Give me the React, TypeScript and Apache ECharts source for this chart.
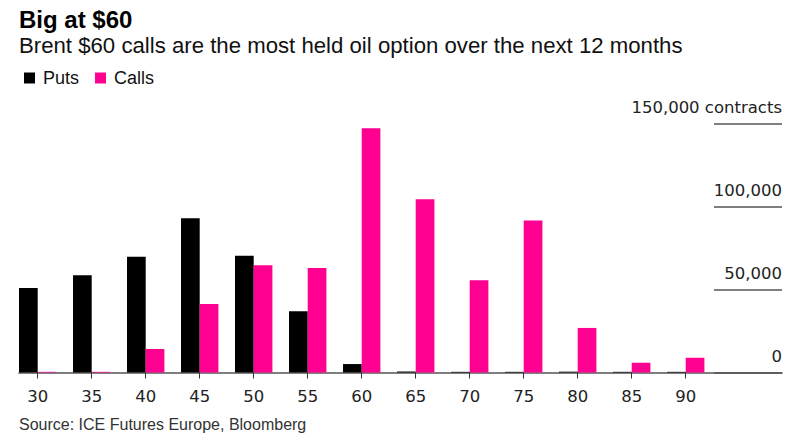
import React, { useEffect, useRef } from 'react';
import * as echarts from 'echarts';

const strikes = ['30', '35', '40', '45', '50', '55', '60', '65', '70', '75', '80', '85', '90', ''];
const puts = [51000, 58700, 69800, 93100, 70500, 37000, 5100, 600, 400, 400, 500, 400, 400, null];
const calls = [400, 400, 14200, 41400, 64700, 63100, 147500, 104600, 55700, 91700, 26900, 5900, 8900, null];
const yMin = 0;
const yMax = 150000;
const yStep = 50000;

const TEXT_FONT = '"Liberation Sans", Arial, sans-serif';
const NUM_FONT = '"DejaVu Sans", sans-serif';

export default function App() {
  const ref = useRef<HTMLDivElement>(null);
  useEffect(() => {
    if (!ref.current) return;
    const chart = echarts.init(ref.current, undefined, { renderer: 'svg' });
    const top = 124;
    const bottom = 74.5;
    chart.setOption({
      animation: false,
      backgroundColor: '#fff',
      graphic: [
        { type: 'text', x: 19, y: 19, style: { text: 'Big at $60', font: `bold 24px ${TEXT_FONT}`, fill: '#000', verticalAlign: 'middle' } },
        { type: 'text', x: 19, y: 45.5, style: { text: 'Brent $60 calls are the most held oil option over the next 12 months', font: `22.2px ${TEXT_FONT}`, fill: '#111', verticalAlign: 'middle' } },
        { type: 'text', x: 19, y: 424, style: { text: 'Source: ICE Futures Europe, Bloomberg', font: `16px ${TEXT_FONT}`, fill: '#333', verticalAlign: 'middle' } },
      ],
      legend: {
        data: ['Puts', 'Calls'],
        left: 19,
        top: 64,
        icon: 'rect',
        itemWidth: 11,
        itemHeight: 11,
        itemGap: 16,
        selectedMode: false,
        textStyle: { fontSize: 18, fontFamily: TEXT_FONT, color: '#111', padding: [0, 0, 0, 3] },
      },
      grid: [
        { left: 10.7, right: 40.3, top, bottom },
        { left: 19, right: 25, top, bottom },
        { left: 714, right: 25, top, bottom },
      ],
      xAxis: [
        {
          type: 'category',
          gridIndex: 0,
          data: strikes,
          axisLine: { show: false },
          axisTick: {
            show: true,
            alignWithLabel: true,
            length: 6,
            interval: (i: number) => i < 13,
            lineStyle: { color: '#333', width: 1 },
          },
          axisLabel: { interval: 0, margin: 15, fontSize: 16.5, fontFamily: NUM_FONT, color: '#222' },
        },
        {
          type: 'value',
          gridIndex: 1,
          min: 0,
          max: 1,
          axisLine: { show: true, onZero: false, lineStyle: { color: '#555', width: 1.5 } },
          axisTick: { show: false },
          axisLabel: { show: false },
          splitLine: { show: false },
        },
        { type: 'value', gridIndex: 2, min: 0, max: 1, show: false },
      ],
      yAxis: [
        { type: 'value', gridIndex: 0, min: yMin, max: yMax, show: false },
        { type: 'value', gridIndex: 1, min: yMin, max: yMax, show: false },
        {
          type: 'value',
          gridIndex: 2,
          min: yMin,
          max: yMax,
          interval: yStep,
          position: 'right',
          axisLine: { show: false },
          axisTick: { show: false },
          splitLine: { show: true, lineStyle: { color: '#555', width: 1.5 } },
          axisLabel: {
            inside: true,
            margin: 0,
            verticalAlign: 'bottom',
            padding: [0, 0, 8, 0],
            fontSize: 16.5,
            fontFamily: NUM_FONT,
            color: '#222',
            formatter: (v: number) => {
              const s = v.toLocaleString('en-US');
              return v === yMax ? s + ' contracts' : s;
            },
          },
        },
      ],
      series: [
        {
          type: 'bar',
          name: 'Puts',
          xAxisIndex: 0,
          yAxisIndex: 0,
          data: puts,
          barWidth: 18.7,
          barGap: '0%',
          itemStyle: { color: '#000' },
        },
        {
          type: 'bar',
          name: 'Calls',
          xAxisIndex: 0,
          yAxisIndex: 0,
          data: calls,
          barWidth: 18.7,
          barGap: '0%',
          itemStyle: { color: '#ff0090' },
        },
      ],
    });
    return () => chart.dispose();
  }, []);
  return <div ref={ref} style={{ position: 'fixed', left: 0, top: 0, width: 807, height: 447 }} />;
}
